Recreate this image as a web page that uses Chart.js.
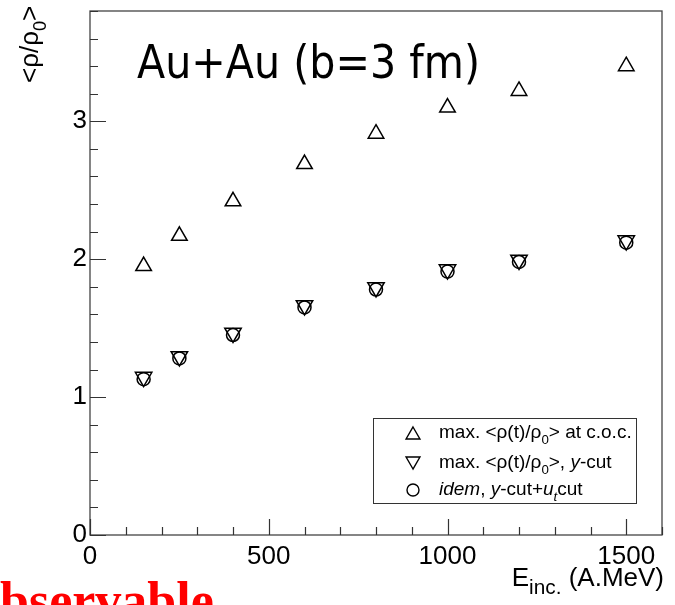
<!DOCTYPE html>
<html>
<head>
<meta charset="utf-8">
<title>Au+Au density</title>
<script src="https://cdn.jsdelivr.net/npm/chart.js@4.4.0/dist/chart.umd.min.js"></script>
<style>
  html, body { margin: 0; padding: 0; background: #fff; overflow: hidden; }
  #chart { display: block; }
</style>
</head>
<body>
<canvas id="chart" width="675" height="605"></canvas>
<script>
// incident energies (A.MeV)
const energies = [150, 250, 400, 600, 800, 1000, 1200, 1500];
// max. <rho(t)/rho0> at the centre of collision
const maxRhoCoc = [1.95, 2.17, 2.42, 2.69, 2.91, 3.10, 3.22, 3.40];
// same with the y-cut
const maxRhoYcut = [1.145, 1.295, 1.465, 1.665, 1.795, 1.925, 1.995, 2.135];
// y-cut + u_t cut
const idemUtCut = [1.13, 1.28, 1.45, 1.65, 1.78, 1.91, 1.98, 2.12];

const xTicks = [0, 500, 1000, 1500];
const yTicks = [0, 1, 2, 3];

const FONT = '"Liberation Sans", Arial, Helvetica, sans-serif';

// legend rows as text runs (sub = subscript, it = italic)
const legendRuns = [
  [{ t: 'max. <ρ(t)/ρ' }, { t: '0', sub: true }, { t: '> at c.o.c.' }],
  [{ t: 'max. <ρ(t)/ρ' }, { t: '0', sub: true }, { t: '>, ' }, { t: 'y', it: true }, { t: '-cut' }],
  [{ t: 'idem', it: true }, { t: ', ' }, { t: 'y', it: true }, { t: '-cut+' }, { t: 'u', it: true }, { t: 't', it: true, sub: true }, { t: 'cut' }]
];
const yTitleRuns = [{ t: '<ρ/ρ' }, { t: '0', sub: true }, { t: '>' }];
const xTitleRuns = [{ t: 'E' }, { t: 'inc.', sub: true, scale: 0.8 }, { t: ' (A.MeV)' }];

function toPoints(ys) {
  return energies.map((e, i) => ({ x: e, y: ys[i] }));
}

function runsWidth(ctx, runs, size) {
  let w = 0;
  runs.forEach(r => {
    const fs = r.sub ? size * (r.scale || 0.7) : size;
    ctx.font = (r.it ? 'italic ' : '') + fs + 'px ' + FONT;
    w += ctx.measureText(r.t).width;
  });
  return w;
}

function drawRuns(ctx, x, y, runs, size) {
  runs.forEach(r => {
    const fs = r.sub ? size * (r.scale || 0.7) : size;
    ctx.font = (r.it ? 'italic ' : '') + fs + 'px ' + FONT;
    ctx.fillText(r.t, x, r.sub ? y + size * 0.32 : y);
    x += ctx.measureText(r.t).width;
  });
  return x;
}

// frame with inward ticks, ROOT style
const frameTicks = {
  id: 'frameTicks',
  beforeDatasetsDraw(chart) {
    const { ctx, chartArea: a, scales: { x, y } } = chart;
    ctx.save();
    ctx.strokeStyle = '#444';
    ctx.lineWidth = 1.3;
    ctx.strokeRect(a.left, a.top, a.right - a.left, a.bottom - a.top);
    ctx.strokeStyle = '#333';
    ctx.lineWidth = 1.2;
    ctx.beginPath();
    for (let v = 0; v <= x.max + 1e-6; v += 100) {
      const px = Math.round(x.getPixelForValue(v)) + 0.5;
      const len = v % 500 === 0 ? 16 : 8;
      ctx.moveTo(px, a.bottom);
      ctx.lineTo(px, a.bottom - len);
    }
    for (let i = 0; i * 0.2 <= y.max + 1e-6; i++) {
      const py = Math.round(y.getPixelForValue(i * 0.2)) + 0.5;
      const len = i % 5 === 0 ? 16 : 8;
      ctx.moveTo(a.left, py);
      ctx.lineTo(a.left + len, py);
    }
    ctx.stroke();
    ctx.restore();
  }
};

// titles, legend box and the caption at the bottom
const annotations = {
  id: 'annotations',
  afterDraw(chart) {
    const { ctx } = chart;
    ctx.save();
    ctx.fillStyle = '#000';
    ctx.textBaseline = 'alphabetic';
    ctx.textAlign = 'left';

    // y axis title, rotated
    ctx.save();
    ctx.translate(38, 83);
    ctx.rotate(-Math.PI / 2);
    drawRuns(ctx, 0, 0, yTitleRuns, 26);
    ctx.restore();

    // x axis title, right aligned
    const xw = runsWidth(ctx, xTitleRuns, 26);
    drawRuns(ctx, 664 - xw, 586, xTitleRuns, 26);

    // system label
    ctx.save();
    ctx.font = '46px "DejaVu Sans", sans-serif';
    const label = 'Au+Au (b=3 fm)';
    const lw = ctx.measureText(label).width;
    ctx.translate(137, 78);
    ctx.scale(343 / lw, 1);
    ctx.fillText(label, 0, 0);
    ctx.restore();

    // legend
    ctx.strokeStyle = '#333';
    ctx.lineWidth = 1;
    ctx.strokeRect(373.5, 418.5, 263, 85);
    const rowsY = [438, 468, 495];
    chart.data.datasets.forEach((ds, i) => {
      ctx.strokeStyle = ds.borderColor;
      ctx.fillStyle = 'rgba(0,0,0,0)';
      ctx.lineWidth = 1.4;
      Chart.helpers.drawPoint(ctx, {
        pointStyle: ds.pointStyle,
        rotation: ds.rotation || 0,
        radius: ds.pointStyle === 'circle' ? 6 : 8,
        borderWidth: 1.4
      }, 413, rowsY[i] - (ds.pointStyle === 'circle' ? 5 : (ds.rotation ? 7 : 3)));
      ctx.fillStyle = '#000';
      drawRuns(ctx, 439, rowsY[i], legendRuns[i], 19);
    });

    // caption partly outside the page
    ctx.fillStyle = '#ff0000';
    ctx.font = 'bold 52px "Liberation Serif", "Times New Roman", serif';
    ctx.fillText('observable', -26, 618);
    ctx.restore();
  }
};

const markerBase = {
  borderColor: '#000',
  backgroundColor: 'rgba(0,0,0,0)',
  pointBorderWidth: 1.5,
  showLine: false
};

new Chart(document.getElementById('chart'), {
  type: 'scatter',
  data: {
    datasets: [
      Object.assign({}, markerBase, {
        label: 'max. <ρ(t)/ρ0> at c.o.c.',
        data: toPoints(maxRhoCoc),
        pointStyle: 'triangle',
        pointRadius: 9
      }),
      Object.assign({}, markerBase, {
        label: 'max. <ρ(t)/ρ0>, y-cut',
        data: toPoints(maxRhoYcut),
        pointStyle: 'triangle',
        rotation: 180,
        pointRotation: 180,
        pointRadius: 9.5
      }),
      Object.assign({}, markerBase, {
        label: 'idem, y-cut+ut cut',
        data: toPoints(idemUtCut),
        pointStyle: 'circle',
        pointRadius: 6.5
      })
    ]
  },
  options: {
    responsive: false,
    animation: false,
    events: [],
    layout: { padding: { top: 2, right: 13, left: 0, bottom: 0 } },
    plugins: {
      legend: { display: false },
      tooltip: { enabled: false },
      title: { display: false }
    },
    scales: {
      x: {
        type: 'linear',
        min: 0,
        max: 1600,
        grid: { display: false, drawTicks: false },
        border: { display: false },
        afterBuildTicks: s => { s.ticks = xTicks.map(v => ({ value: v })); },
        afterFit: s => { s.height = 70; s.paddingLeft = 0; s.paddingRight = 0; },
        ticks: {
          color: '#000',
          font: { family: FONT, size: 26 },
          padding: 6,
          autoSkip: false,
          maxRotation: 0,
          callback: v => String(v)
        }
      },
      y: {
        type: 'linear',
        min: 0,
        max: 3.8,
        grid: { display: false, drawTicks: false },
        border: { display: false },
        afterBuildTicks: s => { s.ticks = yTicks.map(v => ({ value: v })); },
        afterFit: s => { s.width = 90; s.paddingTop = 0; s.paddingBottom = 0; },
        ticks: {
          color: '#000',
          font: { family: FONT, size: 26 },
          padding: 3,
          callback: v => String(v)
        }
      }
    }
  },
  plugins: [frameTicks, annotations]
});
</script>
</body>
</html>
